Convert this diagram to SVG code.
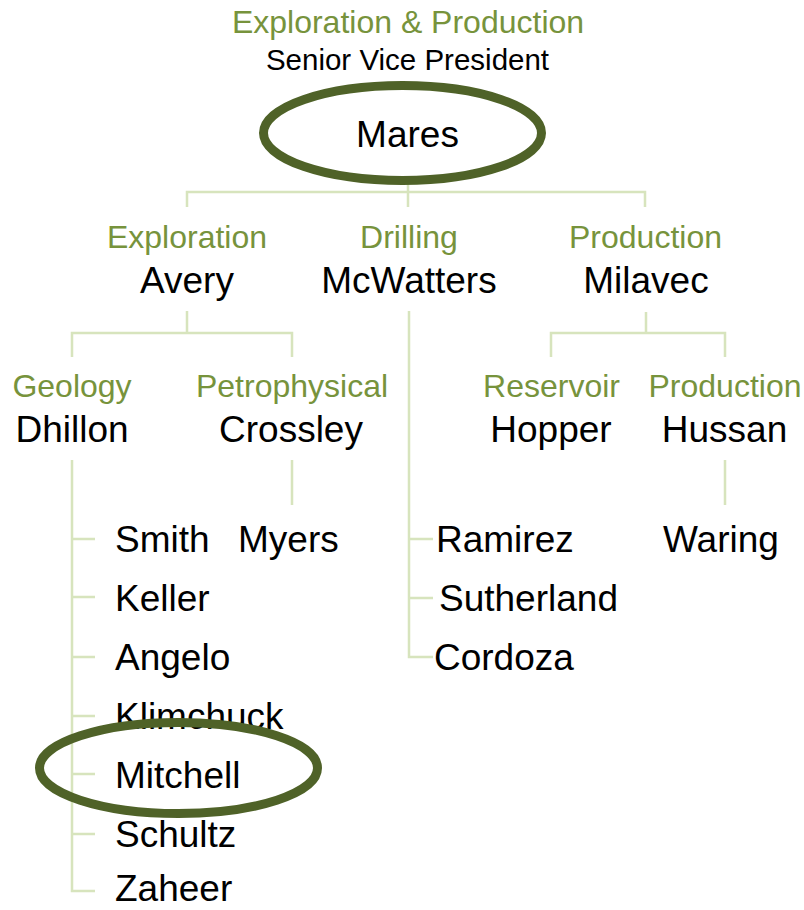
<svg xmlns="http://www.w3.org/2000/svg" width="804" height="910" viewBox="0 0 804 910">
<style>
text{font-family:"Liberation Sans",Arial,sans-serif}
.t{fill:#77933C;font-size:32px;text-anchor:middle}
.n{fill:#000;font-size:37px;text-anchor:middle}
.l{fill:#000;font-size:37px;text-anchor:start}
.c{fill:none;stroke:#D7E4BD;stroke-width:2.5}
.hl{fill:none;stroke:#4F6228;stroke-width:9}
</style>
<rect width="804" height="910" fill="#fff"/>
<g id="connectors" class="c">
<path d="M408 180V192M187 207V192H645V207M408 192V207"/>
<path d="M187 311V333M72 357V333H292V357"/>
<path d="M646 312V333M551 357V333H725V357"/>
<path d="M409 311V657H433M409 539H433M409 598H433"/>
<path d="M72 460V891H95M72 539H95M72 597H95M72 657H95M72 716H95M72 774H95M72 834H95"/>
<path d="M292 460V505M725 460V505"/>
</g>
<g id="node-mares">
<text class="t" x="408" y="33">Exploration &amp; Production</text>
<text class="n" x="407.5" y="70" style="font-size:29.5px">Senior Vice President</text>
<text class="n" x="407.5" y="147">Mares</text>
<ellipse class="hl" cx="402.5" cy="133" rx="139" ry="47.5"/>
</g>
<g id="node-avery">
<text class="t" x="187" y="248">Exploration</text>
<text class="n" x="187" y="293">Avery</text>
</g>
<g id="node-mcwatters">
<text class="t" x="409" y="248">Drilling</text>
<text class="n" x="409" y="293">McWatters</text>
</g>
<g id="node-milavec">
<text class="t" x="645.5" y="248">Production</text>
<text class="n" x="646" y="293">Milavec</text>
</g>
<g id="node-dhillon">
<text class="t" x="72" y="397">Geology</text>
<text class="n" x="72" y="442">Dhillon</text>
</g>
<g id="node-crossley">
<text class="t" x="292" y="397">Petrophysical</text>
<text class="n" x="291" y="442">Crossley</text>
</g>
<g id="node-hopper">
<text class="t" x="551.5" y="397">Reservoir</text>
<text class="n" x="551" y="442">Hopper</text>
</g>
<g id="node-hussan">
<text class="t" x="725" y="397">Production</text>
<text class="n" x="724.5" y="442">Hussan</text>
</g>
<g id="node-smith"><text class="l" x="115" y="552">Smith</text></g>
<g id="node-keller"><text class="l" x="115" y="611">Keller</text></g>
<g id="node-angelo"><text class="l" x="115" y="670">Angelo</text></g>
<g id="node-klimchuck"><text class="l" x="115" y="729">Klimchuck</text></g>
<g id="node-mitchell"><text class="l" x="115" y="788">Mitchell</text></g>
<g id="node-schultz"><text class="l" x="115" y="847">Schultz</text></g>
<g id="node-zaheer"><text class="l" x="115" y="901">Zaheer</text></g>
<g id="node-myers"><text class="l" x="238" y="552">Myers</text></g>
<g id="node-ramirez"><text class="l" x="436" y="552">Ramirez</text></g>
<g id="node-sutherland"><text class="l" x="439" y="611">Sutherland</text></g>
<g id="node-cordoza"><text class="l" x="434" y="670">Cordoza</text></g>
<g id="node-waring"><text class="l" x="663" y="552">Waring</text></g>
<g id="highlight-mitchell">
<ellipse class="hl" cx="178.5" cy="768" rx="139" ry="45.5"/>
</g>
</svg>
